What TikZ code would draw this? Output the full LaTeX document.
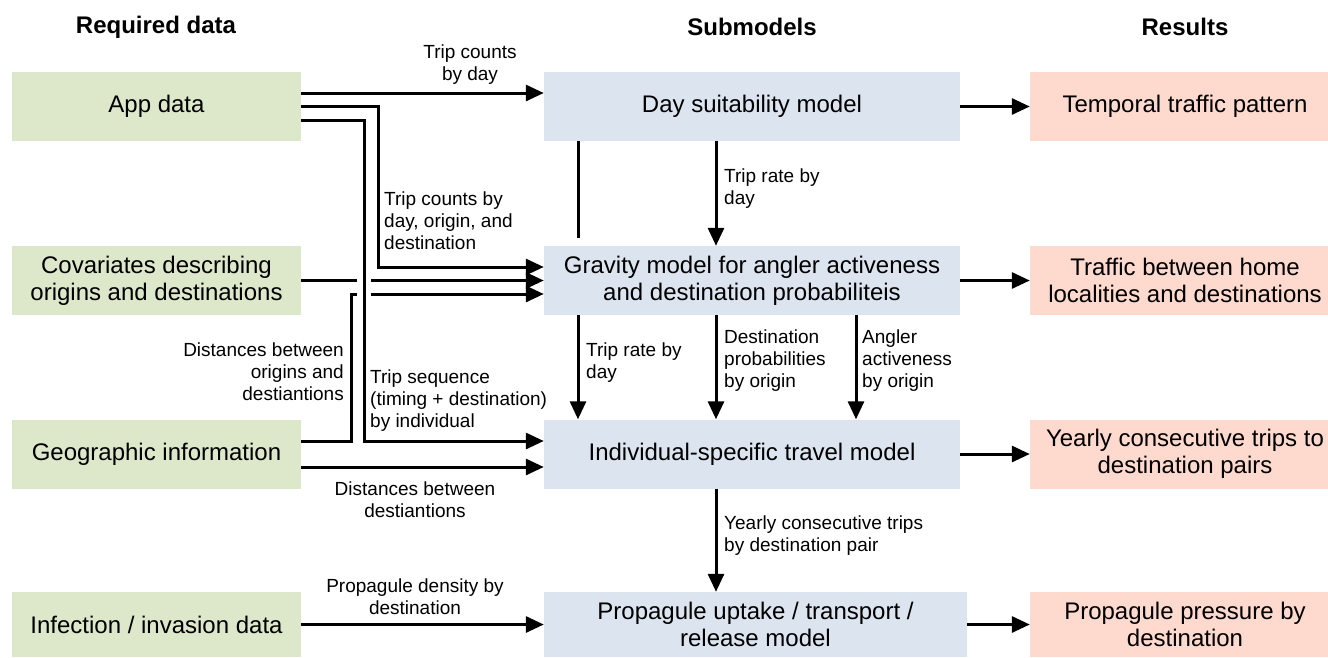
\documentclass[tikz,border=0pt]{standalone}
\usepackage{fontspec}
\setmainfont{Liberation Sans}
\usetikzlibrary{arrows.meta}

\definecolor{datagreen}{RGB}{221,232,203}
\definecolor{modelblue}{RGB}{220,229,239}
\definecolor{resultred}{RGB}{253,217,206}

\tikzset{
  box/.style={rectangle, inner sep=0pt, minimum height=69pt, align=center,
    font=\fontsize{24}{27}\selectfont},
  databox/.style={box, fill=datagreen, minimum width=289pt},
  modelbox/.style={box, fill=modelblue, minimum width=416pt},
  resultbox/.style={box, fill=resultred, minimum width=310pt},
  header/.style={inner sep=0pt, font=\fontsize{24}{27}\selectfont\bfseries},
  lbl/.style={inner sep=0pt, font=\fontsize{19}{22}\selectfont},
  flow/.style={line width=3pt, -{Triangle[length=18pt,width=16pt]}},
  link/.style={line width=3pt},
}

\begin{document}
\begin{tikzpicture}[x=1pt,y=-1pt]
      \useasboundingbox (0,0) rectangle (1328,657);
      % column headers
      \node [header] (hdata) at (156,27) {Required data};
      \node [header] (hsub) at (752,27) {Submodels};
      \node [header] (hres) at (1185,27) {Results};
      % required data
      \node [databox] (app) at (156.5,106.5) {App data};
      \node [databox] (cov) at (156.5,280.5) {Covariates describing\\origins and destinations};
      \node [databox] (geo) at (156.5,454) {Geographic information};
      \node [databox, minimum height=65pt] (inf) at (156.5,624.5) {Infection / invasion data};
      % submodels
      \node [modelbox] (day) at (752,106.5) {Day suitability model};
      \node [modelbox] (grav) at (752,280.5) {Gravity model for angler activeness\\and destination probabiliteis};
      \node [modelbox] (ind) at (752,454) {Individual-specific travel model};
      \node [modelbox, minimum width=423pt, minimum height=65pt] (prop) at (755.5,624.5) {Propagule uptake / transport /\\release model};
      % results
      \node [resultbox] (tmp) at (1185,106.5) {Temporal traffic pattern};
      \node [resultbox] (trf) at (1185,280.5) {Traffic between home\\localities and destinations};
      \node [resultbox] (cons) at (1185,454) {Yearly consecutive trips to\\destination pairs};
      \node [resultbox, minimum height=65pt] (pres) at (1185,624.5) {Propagule pressure by\\destination};
      % bends and gaps of the routed lines
      \coordinate (bendA) at (378,267);
      \coordinate (bendB) at (364,441);
      \coordinate (bendC) at (351,294);
      \coordinate (gapL) at (357,280.5);
      \coordinate (gapR) at (371,280.5);
      % data into submodels
      \draw [flow] ([yshift=13.5pt]app.east) -- ([yshift=13.5pt]app.east -| day.west);
      \draw [flow] (app.east) -| (bendA) -- (bendA -| grav.west);
      \draw [flow] ([yshift=-13.5pt]app.east) -| (bendB) -- (bendB -| ind.west);
      \draw [link] (cov.east) -- (gapL);
      \draw [flow] (gapR) -- (grav.west);
      \draw [link] (bendB -| geo.east) -| (bendC) -- (bendC -| gapL);
      \draw [flow] (bendC -| gapR) -- (bendC -| grav.west);
      \draw [flow] ([yshift=-13pt]geo.east) -- ([yshift=-13pt]geo.east -| ind.west);
      \draw [flow] (inf.east) -- (inf.east -| prop.west);
      % between submodels
      \draw [flow] ([xshift=-36pt]day.south) -- ([xshift=-36pt]day.south |- grav.north);
      \draw [link] ([xshift=-174pt]day.south) -- ++(0,97);
      \foreach \dx in {-174,-36,104}
        \draw [flow] ([xshift=\dx pt]grav.south) -- ([xshift=\dx pt]grav.south |- ind.north);
      \draw [flow] ([xshift=-36pt]ind.south) -- ([xshift=-36pt]ind.south |- prop.north);
      % submodels into results
      \foreach \m/\r in {day/tmp, grav/trf, ind/cons, prop/pres}
        \draw [flow] (\m.east) -- (\r.west);
      % connector labels
      \node [lbl, align=center] (lcount) at (470,64.5) {Trip counts\\by day};
      \node [lbl, align=left, anchor=west] (lcodd) at (384,221) {Trip counts by\\day, origin, and\\destination};
      \node [lbl, align=left, anchor=west] (lrate) at (724,188.5) {Trip rate by\\day};
      \node [lbl, align=right, anchor=east] (ldist) at (344,372) {Distances between\\origins and\\destiantions};
      \node [lbl, align=left, anchor=west] (lseq) at (370,400.5) {Trip sequence\\(timing + destination)\\by individual};
      \node [lbl, align=left, anchor=west] (lrateb) at (586,362.5) {Trip rate by\\day};
      \node [lbl, align=left, anchor=west] (ldprob) at (724,360.5) {Destination\\probabilities\\by origin};
      \node [lbl, align=left, anchor=west] (lact) at (862,360.5) {Angler\\activeness\\by origin};
      \node [lbl, align=center] (ldistd) at (415,500) {Distances between\\destiantions};
      \node [lbl, align=left, anchor=west] (lyear) at (724,535.5) {Yearly consecutive trips\\by destination pair};
      \node [lbl, align=center] (lprop) at (415,597) {Propagule density by\\destination};
    \end{tikzpicture}
\end{document}
